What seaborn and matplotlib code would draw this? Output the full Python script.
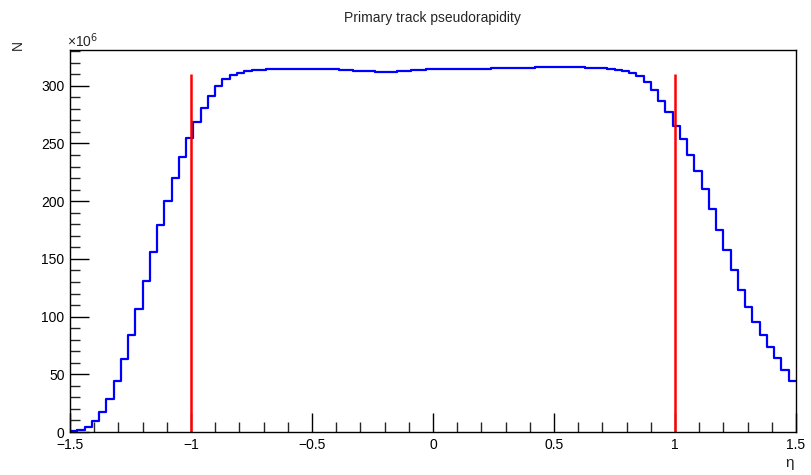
import numpy as np
import pandas as pd
import matplotlib
matplotlib.use("Agg")
import matplotlib.pyplot as plt
import seaborn as sns
from matplotlib.ticker import MultipleLocator

# ---- data (counts in units of 10^6 per bin) ----
eta_low = -1.5
eta_high = 1.5
n_bins = 100
counts_millions = [
    0.5, 1.5, 4, 9.5, 17.5, 29, 44, 63, 84, 107,
    131, 156, 179.5, 200.5, 220.5, 238.5, 255, 269, 281, 291.5,
    299.5, 305.5, 309, 311.5, 313, 313.5, 314, 314.3, 314.5, 314.6,
    314.7, 314.8, 314.8, 314.8, 314.7, 314.6, 314.4, 314.0, 313.6, 313.2,
    312.8, 312.5, 312.2, 312.0, 312.1, 312.5, 313.0, 313.5, 313.3, 314.2,
    314.6, 314.5, 314.3, 314.2, 314.2, 314.3, 314.6, 314.9, 315.1, 315.3,
    315.4, 315.5, 315.6, 315.8, 315.9, 316.0, 316.1, 316.2, 316.2, 316.1,
    315.9, 315.7, 315.4, 315.0, 314.6, 314.0, 313, 311.3, 308.6, 303,
    296, 287, 277, 265.3, 253.8, 240, 226.4, 210.6, 193.3, 175.2,
    157.3, 140, 123.3, 108.3, 95.3, 83.8, 73.7, 63.7, 53.6, 44.4,
]
cut_eta = [-1.0, 1.0]
cut_top = 310
title = "Primary track pseudorapidity"
x_label = "η"
y_label = "N"
x_ticks = [-1.5, -1, -0.5, 0, 0.5, 1, 1.5]
x_tick_labels = ["−1.5", "−1", "−0.5", "0", "0.5", "1", "1.5"]
y_ticks = [0, 50, 100, 150, 200, 250, 300]

# ---- build table ----
edges = np.linspace(eta_low, eta_high, n_bins + 1)
centers = 0.5 * (edges[:-1] + edges[1:])
df = pd.DataFrame({"eta": centers, "n": counts_millions})

sns.set_theme(style="ticks")
plt.rcParams["font.family"] = ["Liberation Sans", "DejaVu Sans"]

fig = plt.figure(figsize=(8.11, 4.75), dpi=100)
ax = fig.add_axes([70 / 811, 1 - 432 / 475, (796 - 70) / 811, (432 - 50) / 475])

sns.histplot(data=df, x="eta", weights="n", bins=n_bins, binrange=(eta_low, eta_high),
             element="step", fill=False, color="#0000ff", linewidth=1.6, ax=ax)

for xc in cut_eta:
    ax.plot([xc, xc], [0, cut_top], color="#ff0000", linewidth=1.8, solid_capstyle="butt")

ax.set_xlim(eta_low, eta_high)
ax.set_ylim(0, 331)
ax.set_xticks(x_ticks)
ax.set_xticklabels(x_tick_labels)
ax.set_yticks(y_ticks)
ax.xaxis.set_minor_locator(MultipleLocator(0.1))
ax.yaxis.set_minor_locator(MultipleLocator(10))

ax.tick_params(axis="both", which="major", direction="in", length=14, width=1.0,
               labelsize=10, colors="black")
ax.tick_params(axis="x", which="major", pad=4)
ax.tick_params(axis="y", which="major", pad=4)
ax.tick_params(axis="both", which="minor", direction="in", length=7, width=1.0)
ax.tick_params(axis="x", which="both", top=False)
ax.tick_params(axis="y", which="both", right=False)
for s in ax.spines.values():
    s.set_visible(True)
    s.set_color("black")
    s.set_linewidth(1.0)

ax.set_xlabel("")
ax.set_ylabel("")
fig.text(790 / 811, 1 - 463 / 475, x_label, ha="center", va="center", fontsize=11)
fig.text(18 / 811, 1 - 45 / 475, y_label, ha="center", va="center", fontsize=10, rotation=90)
fig.text(432 / 811, 1 - 18 / 475, title, ha="center", va="center", fontsize=10)
fig.text(67 / 811, 1 - 41 / 475, "×10$^{6}$", ha="left", va="center", fontsize=10)

fig.savefig("out.png", dpi=100, facecolor="white")
